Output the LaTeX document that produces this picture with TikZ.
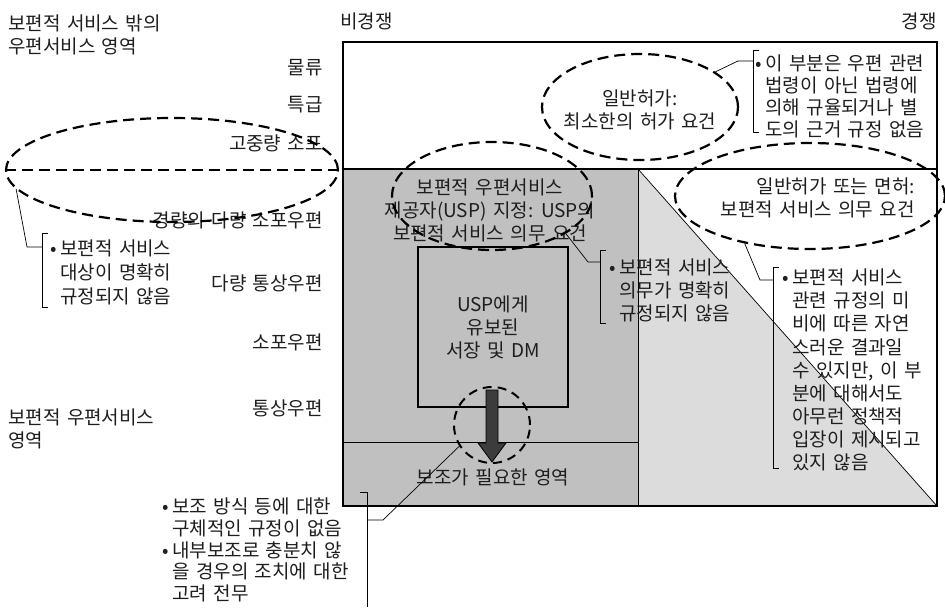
\documentclass[tikz,border=0pt]{standalone}
\usepackage{fontspec}
\setmainfont[WordSpace=1.5]{Noto Sans CJK KR}
\usetikzlibrary{shapes.geometric}
\definecolor{gdark}{HTML}{C0C0C0}
\definecolor{glight}{HTML}{DCDCDC}
\definecolor{arrowc}{HTML}{3C3C3C}
\definecolor{ink}{HTML}{1E1E1E}
\newcommand\mybul{\makebox[10pt][l]{•}}
\newcommand\myind{\hspace*{10pt}}
\begin{document}
\begin{tikzpicture}[x=1pt,y=-1pt,
  txt/.style={inner sep=0pt, text=ink, font=\fontsize{19}{23}\selectfont},
  lbl/.style={txt, anchor=east},
  note/.style={txt, anchor=west, align=left},
  dsh/.style={draw, line width=2.2pt, dash pattern=on 11pt off 6pt},
  ell/.style={dsh, ellipse, inner sep=0pt},
  thinl/.style={line width=0.7pt},
  framel/.style={line width=1.2pt}]
\useasboundingbox (0,0) rectangle (945,610);
% areas
\fill[gdark] (343,169) rectangle (638,506);
\fill[glight] (638,169) -- (937,506) -- (638,506) -- cycle;
\draw[framel] (343,42) rectangle (937,506);
\draw[framel] (343,169) -- (937,169);
\draw[thinl] (638,169) -- (638,506);
\draw[thinl] (638,169) -- (937,506);
\draw[thinl] (343,442) -- (638,442);
% axis texts
\node[note] (tOut) at (8,35) {보편적 서비스 밖의\\우편서비스 영역};
\node[note] (tUni) at (8,429) {보편적 우편서비스\\영역};
\node[txt, anchor=west] (tNon) at (340,21) {비경쟁};
\node[txt, anchor=east] (tCom) at (937,21) {경쟁};
\node[lbl] (l1) at (323,68) {물류};
\node[lbl] (l2) at (323,105) {특급};
\node[lbl] (l3) at (323,143) {고중량 소포};
\node[lbl] (l4) at (323,220) {경량의 다량 소포우편};
\node[lbl] (l5) at (323,283) {다량 통상우편};
\node[lbl] (l6) at (323,342) {소포우편};
\node[lbl] (l7) at (323,408) {통상우편};
% USP box
\node[draw, line width=2.4pt, fill=gdark, minimum width=150pt, minimum height=160pt, inner sep=0pt, txt, align=center] (usp) at (493,327) {USP에게\\유보된\\서장 및 DM};
\draw[fill=arrowc, line width=0.8pt] (486,390) -- (498,390) -- (498,443) -- (506,443) -- (492,462) -- (478,443) -- (486,443) -- cycle;
\node[txt] (tSub) at (493,477) {보조가 필요한 영역};
% ellipse texts
\node[txt, align=center] (tT) at (640,110) {일반허가:\\최소한의 허가 요건};
\node[txt, align=center] (tM) at (490,210) {보편적 우편서비스\\제공자(USP) 지정: USP의\\보편적 서비스 의무 요건};
\node[txt, align=right, anchor=east] (tR) at (915,198) {일반허가 또는 면허:\\보편적 서비스 의무 요건};
% ellipses
\node[ell, minimum width=332pt, minimum height=104pt] (eL) at (172,170) {};
\draw[dsh] (eL.west) -- (eL.east);
\node[ell, minimum width=196pt, minimum height=106pt] (eT) at (640,107) {};
\node[ell, minimum width=200pt, minimum height=108pt] (eM) at (492,196) {};
\node[ell, minimum width=270pt, minimum height=106pt] (eR) at (810,196) {};
\node[dsh, circle, minimum size=76pt, inner sep=0pt, line width=2pt, dash pattern=on 9pt off 6pt] (cS) at (492,425) {};
% callout notes
\node[note, font=\fontsize{19}{24}\selectfont] (nL) at (50,272) {\mybul 보편적 서비스\\\myind 대상이 명확히\\\myind 규정되지 않음};
\node[note, font=\fontsize{19}{22}\selectfont] (nT) at (755,96) {\mybul 이 부분은 우편 관련\\\myind 법령이 아닌 법령에\\\myind 의해 규율되거나 별\\\myind 도의 근거 규정 없음};
\node[note] (nM) at (609,290) {\mybul 보편적 서비스\\\myind 의무가 명확히\\\myind 규정되지 않음};
\node[note, font=\fontsize{19}{23.1}\selectfont] (nR) at (782,370) {\mybul 보편적 서비스\\\myind 관련 규정의 미\\\myind 비에 따른 자연\\\myind 스러운 결과일\\\myind 수 있지만, 이 부\\\myind 분에 대해서도\\\myind 아무런 정책적\\\myind 입장이 제시되고\\\myind 있지 않음};
\node[note, font=\fontsize{19}{21.6}\selectfont] (nB) at (162,550) {\mybul 보조 방식 등에 대한\\\myind 구체적인 규정이 없음\\\mybul 내부보조로 충분치 않\\\myind 을 경우의 조치에 대한\\\myind 고려 전무};
% brackets and connectors
\coordinate (bL) at (42,247);
\draw[thinl] (48,233) -| (42,307) -- (48,307);
\draw[thinl] (eL.187) -- (27,247) -- (bL);
\coordinate (bT) at (753,61);
\draw[thinl] (759,50) -| (753,132) -- (759,132);
\draw[thinl] (eT.25) -- (738,61) -- (bT);
\coordinate (bM) at (600,262);
\draw[thinl] (606,250) -| (600,323) -- (606,323);
\draw[thinl] (eM.333) -- (588,262) -- (bM);
\coordinate (bR) at (773,280);
\draw[thinl] (779,267) -| (773,468) -- (779,468);
\draw[thinl] (eR.216) -- (760,280) -- (bR);
\coordinate (bB) at (367,520);
\draw[thinl] (360,492) -| (367,607);
\draw[thinl] (cS.213) -- (383,520) -- (bB);
\end{tikzpicture}
\end{document}
